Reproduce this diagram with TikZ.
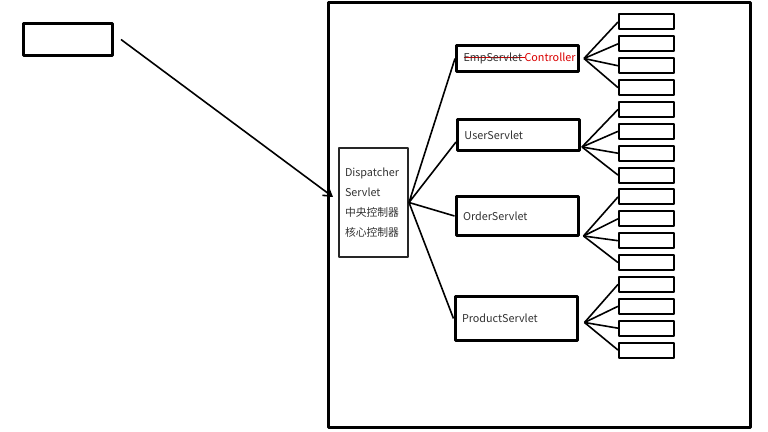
\documentclass[tikz,border=0pt]{standalone}
\usepackage{fontspec}
\setmainfont{Noto Sans CJK SC}
\usetikzlibrary{arrows.meta}
\colorlet{rename}{red!85!black}
% red strike-through for the renamed servlet
\newlength\strikelen
\newcommand{\redout}[1]{\settowidth{\strikelen}{#1}\rlap{\textcolor{rename}{\rule[0.55ex]{\strikelen}{0.45pt}}}#1}
\newcommand{\sv}[1]{\makebox[54pt][l]{#1}}
\begin{document}
\begin{tikzpicture}[x=0.5pt, y=-0.5pt, line join=round, >={Straight Barb[length=4pt,width=5pt]},
	box/.style={draw, line width=1.5pt, inner sep=0pt},
	disp/.style={draw=black!85, line width=1pt, text width=28.5pt, inner xsep=3pt, align=left, minimum height=54.5pt, font=\fontsize{5.4pt}{10pt}\selectfont, text=black!80},
	servlet/.style={draw, line width=1.5pt, inner xsep=3.5pt, inner ysep=0pt, minimum height=#1, font=\fontsize{5.4pt}{6.5pt}\selectfont, text=black!80},
	leaf/.style={draw, line width=1pt, minimum width=27.5pt, minimum height=7.5pt, inner sep=0pt},
	wire/.style={line width=0.8pt}]
	\useasboundingbox (0,0) rectangle (768,432);
	% web container
	\draw[line width=1.5pt] (328,3) rectangle (750,428);
	\node[box, minimum width=44.5pt, minimum height=16pt] (client) at (68,39.5) {};
	\node[disp] (disp) at (373.5,202.5) {Dispatcher\\Servlet\\中央控制器\\核心控制器};
	\node[servlet=13pt] (emp) at (517.5,58.5) {\sv{\redout{EmpServlet\ }\textcolor{rename}{Controller}}};
	\node[servlet=15.5pt] (user) at (518.5,135) {\sv{UserServlet}};
	\node[servlet=19.5pt] (order) at (517,216) {\sv{OrderServlet}};
	\node[servlet=22pt] (product) at (516,318.5) {\sv{ProductServlet}};
	\foreach \i in {1,...,16}
		\node[leaf] (leaf\i) at (646.5,{22+21.87*(\i-1)}) {};
	\draw[wire,->] ([xshift=3.5pt]client.east) -- ([xshift=-2.5pt,yshift=2.75pt]disp.west);
	\draw[wire] (disp.east) -- (emp.west) (disp.east) -- ([yshift=-3.5pt]user.west)
		(disp.east) -- (order.west) (disp.east) -- (product.west);
	\coordinate (f1) at ([xshift=2pt]emp.east);
	\coordinate (f2) at ([xshift=0.5pt,yshift=2.5pt]user.south east);
	\coordinate (f3) at ([xshift=2pt,yshift=0.5pt]order.south east);
	\coordinate (f4) at ([xshift=3pt,yshift=-2pt]product.east);
	\foreach \f [count=\g] in {f1,f2,f3,f4}
		\foreach \k in {1,...,4}{
			\pgfmathtruncatemacro\n{4*(\g-1)+\k}
			\draw[wire] (\f) -- (leaf\n.west);
		}
\end{tikzpicture}
\end{document}
